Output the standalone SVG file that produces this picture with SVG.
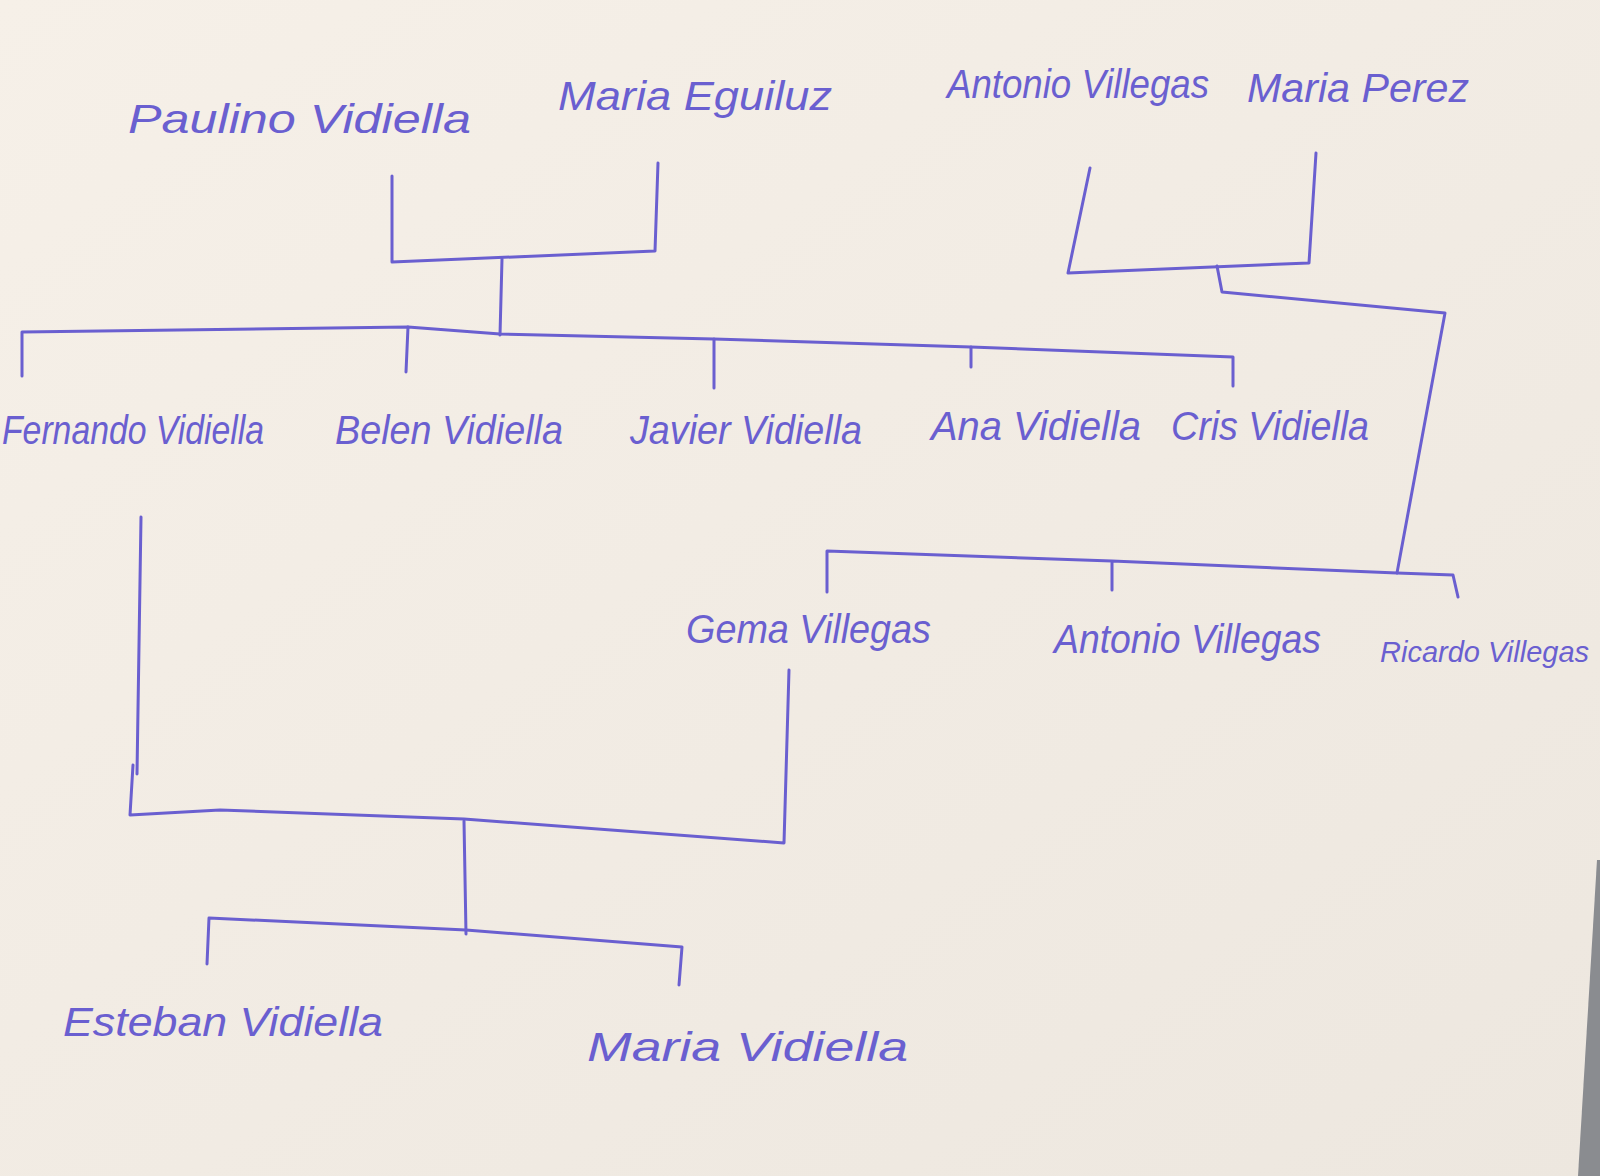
<svg xmlns="http://www.w3.org/2000/svg" width="1600" height="1176" viewBox="0 0 1600 1176">
<defs>
<linearGradient id="paper" x1="0" y1="0" x2="1" y2="1">
<stop offset="0" stop-color="#f6f0e8"/>
<stop offset="1" stop-color="#ede7df"/>
</linearGradient>
<style>
.ink{fill:none;stroke:#6a5fd0;stroke-width:3;stroke-linecap:round;stroke-linejoin:round}
.name{font-family:"Liberation Sans","DejaVu Sans",sans-serif;font-size:40px;fill:#6a5fd0;font-style:italic}
</style>
</defs>
<rect width="1600" height="1176" fill="url(#paper)"/>
<polygon points="1600,860 1597,860 1578,1176 1600,1176" fill="#8a8c90"/>
<g id="connectors" class="ink">
<path d="M392,176 L392,262 L655,251 M658,163 L655,251"/>
<path d="M502,259 L500,335"/>
<path d="M22,376 L22,332 L408,327 L500,334 L714,339 L971,347 L1233,357 L1233,386"/>
<path d="M408,327 L406,372 M714,339 L714,388 M971,347 L971,367"/>
<path d="M1090,168 L1068,273 L1309,263 M1316,153 L1309,263"/>
<path d="M1217,266 L1222,292 L1445,313 L1397,573"/>
<path d="M827,592 L827,551 L1112,561 L1397,573 L1453,575 L1458,597 M1112,561 L1112,590"/>
<path d="M141,517 L137,774"/>
<path d="M133,765 L130,815 L220,810 L464,819 L784,843 L789,670"/>
<path d="M464,821 L466,934"/>
<path d="M207,964 L209,918 L466,930 L682,947 L679,985"/>
</g>
<g id="paulino"><text class="name" x="128" y="133" textLength="343" lengthAdjust="spacingAndGlyphs">Paulino Vidiella</text></g>
<g id="maria-eguiluz"><text class="name" x="558" y="110" textLength="274" lengthAdjust="spacingAndGlyphs">Maria Eguiluz</text></g>
<g id="antonio-villegas-sr"><text class="name" x="947" y="98" textLength="262" lengthAdjust="spacingAndGlyphs">Antonio Villegas</text></g>
<g id="maria-perez"><text class="name" x="1247" y="102" textLength="222" lengthAdjust="spacingAndGlyphs">Maria Perez</text></g>
<g id="fernando"><text class="name" x="2" y="444" textLength="262" lengthAdjust="spacingAndGlyphs">Fernando Vidiella</text></g>
<g id="belen"><text class="name" x="335" y="444" textLength="228" lengthAdjust="spacingAndGlyphs">Belen Vidiella</text></g>
<g id="javier"><text class="name" x="630" y="444" textLength="232" lengthAdjust="spacingAndGlyphs">Javier Vidiella</text></g>
<g id="ana"><text class="name" x="931" y="440" textLength="210" lengthAdjust="spacingAndGlyphs">Ana Vidiella</text></g>
<g id="cris"><text class="name" x="1171" y="440" textLength="198" lengthAdjust="spacingAndGlyphs">Cris Vidiella</text></g>
<g id="gema"><text class="name" x="686" y="643" textLength="245" lengthAdjust="spacingAndGlyphs">Gema Villegas</text></g>
<g id="antonio-villegas-jr"><text class="name" x="1054" y="653" textLength="267" lengthAdjust="spacingAndGlyphs">Antonio Villegas</text></g>
<g id="ricardo"><text class="name" x="1380" y="662" style="font-size:29px">Ricardo Villegas</text></g>
<g id="esteban"><text class="name" x="63" y="1036" textLength="320" lengthAdjust="spacingAndGlyphs">Esteban Vidiella</text></g>
<g id="maria-vidiella"><text class="name" x="587" y="1061" textLength="321" lengthAdjust="spacingAndGlyphs">Maria Vidiella</text></g>
</svg>
